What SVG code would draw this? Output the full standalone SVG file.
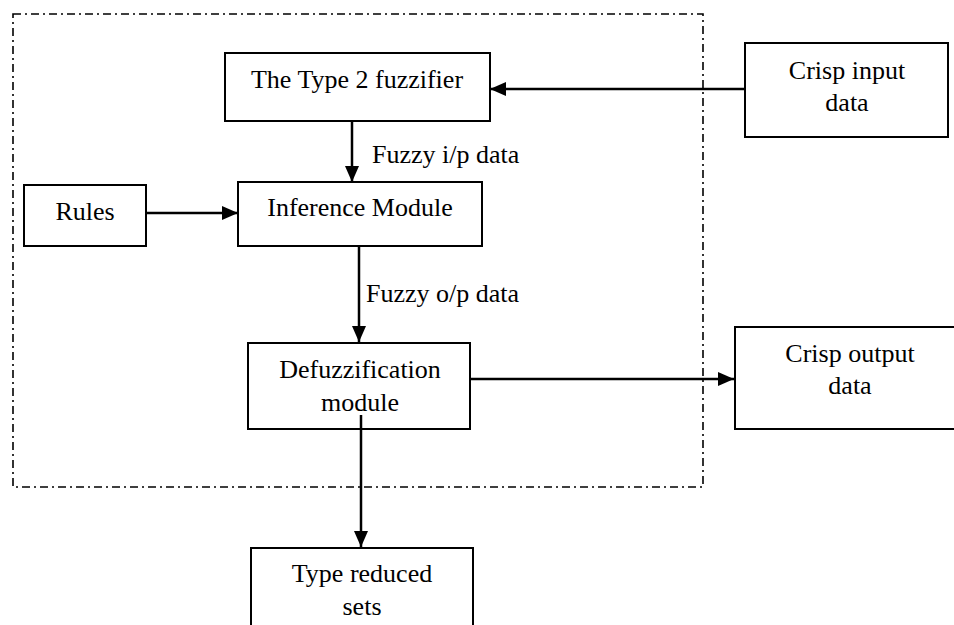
<svg xmlns="http://www.w3.org/2000/svg" width="954" height="625" viewBox="0 0 954 625">
<style>
  .box{fill:#fff;stroke:#000;stroke-width:2}
  .t{font-family:"Liberation Serif","Times New Roman",serif;font-size:26px;fill:#000}
  .c{text-anchor:middle}
  .ln{stroke:#000;stroke-width:2.5;fill:none}
  .frame{fill:none;stroke:#000;stroke-width:1.6;stroke-dasharray:8,4,2,4}
</style>
<defs>
  <marker id="ah" markerWidth="16" markerHeight="14" refX="16" refY="7" orient="auto" markerUnits="userSpaceOnUse">
    <path d="M0,0 L16,7 L0,14 Z" fill="#000"/>
  </marker>
</defs>
<rect width="954" height="625" fill="#fff"/>
<rect class="frame" x="13" y="14" width="690" height="473"/>
<g id="connectors">
  <line class="ln" x1="745" y1="89" x2="490" y2="89" marker-end="url(#ah)"/>
  <line class="ln" x1="352" y1="121" x2="352" y2="182" marker-end="url(#ah)"/>
  <line class="ln" x1="146" y1="213" x2="238" y2="213" marker-end="url(#ah)"/>
  <line class="ln" x1="359" y1="246" x2="359" y2="342" marker-end="url(#ah)"/>
  <line class="ln" x1="470" y1="379" x2="734" y2="379" marker-end="url(#ah)"/>
  <line class="ln" x1="361" y1="415" x2="361" y2="547" marker-end="url(#ah)"/>
  <text class="t" x="372" y="163">Fuzzy i/p data</text>
  <text class="t" x="366" y="302">Fuzzy o/p data</text>
</g>
<g id="fuzzifier">
  <rect class="box" x="225" y="53" width="265" height="68"/>
  <text class="t c" x="357" y="88">The Type 2 fuzzifier</text>
</g>
<g id="crisp-input">
  <rect class="box" x="745" y="43" width="203" height="94"/>
  <text class="t c" x="847" y="79">Crisp input</text>
  <text class="t c" x="847" y="111">data</text>
</g>
<g id="rules">
  <rect class="box" x="24" y="185" width="122" height="61"/>
  <text class="t c" x="85" y="220">Rules</text>
</g>
<g id="inference">
  <rect class="box" x="238" y="182" width="244" height="64"/>
  <text class="t c" x="360" y="216">Inference Module</text>
</g>
<g id="defuzzification">
  <rect class="box" x="248" y="343" width="222" height="86"/>
  <text class="t c" x="360" y="378">Defuzzification</text>
  <text class="t c" x="360" y="411">module</text>
</g>
<line class="ln" x1="361" y1="415" x2="361" y2="429"/>
<g id="crisp-output">
  <rect class="box" x="735" y="327" width="225" height="102"/>
  <text class="t c" x="850" y="362">Crisp output</text>
  <text class="t c" x="850" y="394">data</text>
</g>
<g id="type-reduced">
  <rect class="box" x="251" y="548" width="222" height="90"/>
  <text class="t c" x="362" y="582">Type reduced</text>
  <text class="t c" x="362" y="615">sets</text>
</g>
</svg>
